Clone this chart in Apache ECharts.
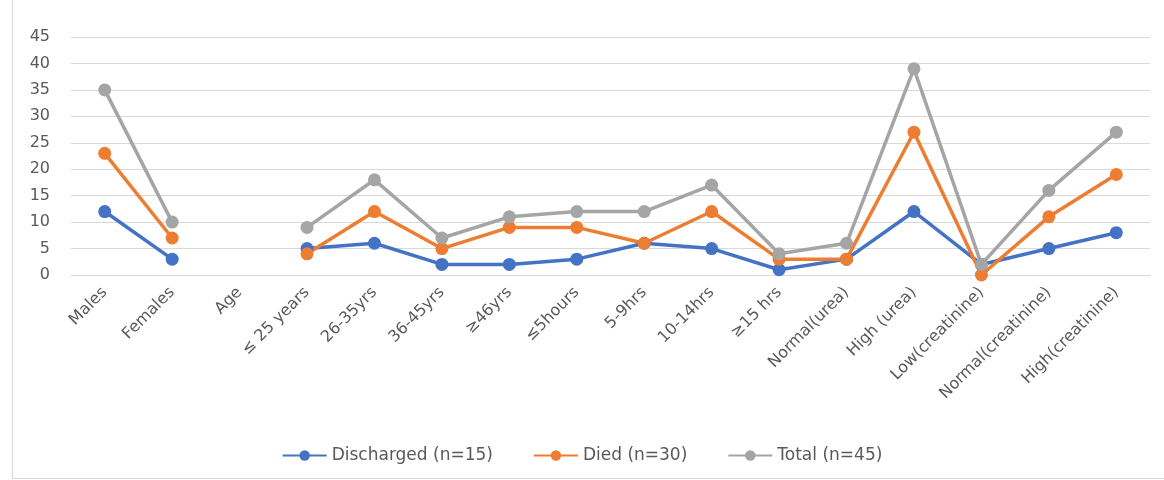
<!DOCTYPE html>
<html>
<head>
<meta charset="utf-8">
<script src="https://cdn.jsdelivr.net/npm/echarts@6/dist/echarts.min.js"></script>
<style>
  html, body { margin: 0; padding: 0; background: #fff; }
  #chart { width: 1164px; height: 480px; }
  .frame { position: absolute; left: 12px; top: 0; width: 1160px; height: 478px; border-left: 1px solid #d9d9d9; border-bottom: 1px solid #d9d9d9; }
</style>
</head>
<body>
<div class="frame"></div>
<div id="chart"></div>
<script>
const categories = ['Males', 'Females', 'Age', '≤ 25 years', '26-35yrs', '36-45yrs', '≥46yrs', '≤5hours',
  '5-9hrs', '10-14hrs', '≥15 hrs', 'Normal(urea)', 'High (urea)', 'Low(creatinine)', 'Normal(creatinine)', 'High(creatinine)']
const discharged = [12, 3, null, 5, 6, 2, 2, 3, 6, 5, 1, 3, 12, 2, 5, 8]
const died = [23, 7, null, 4, 12, 5, 9, 9, 6, 12, 3, 3, 27, 0, 11, 19]
const total = [35, 10, null, 9, 18, 7, 11, 12, 12, 17, 4, 6, 39, 2, 16, 27]
const seriesNames = ['Discharged (n=15)', 'Died (n=30)', 'Total (n=45)']

const font = '"DejaVu Sans", sans-serif'
const myChart = echarts.init(document.getElementById('chart'))

function lineSeries(name, data, color) {
  return {
    name: name,
    type: 'line',
    data: data,
    symbol: 'circle',
    symbolSize: 13,
    connectNulls: false,
    lineStyle: { width: 3.5, color: color },
    itemStyle: { color: color }
  }
}

const option = {
  animation: false,
  color: ['#4472c4', '#ed7d31', '#a5a5a5'],
  grid: { left: 71, right: 14, top: 37, bottom: 205 },
  legend: {
    bottom: 11,
    left: 'center',
    itemWidth: 44,
    itemHeight: 13,
    itemGap: 40,
    textStyle: { color: '#595959', fontSize: 17, fontFamily: font },
    data: seriesNames
  },
  xAxis: {
    type: 'category',
    data: categories,
    boundaryGap: true,
    axisLine: { lineStyle: { color: '#d9d9d9' } },
    axisTick: { show: false },
    axisLabel: { rotate: 45, color: '#595959', fontSize: 16, fontFamily: font, interval: 0, margin: 15 }
  },
  yAxis: {
    type: 'value',
    min: 0,
    max: 45,
    interval: 5,
    axisLine: { show: false },
    axisTick: { show: false },
    splitLine: { lineStyle: { color: '#d9d9d9' } },
    axisLabel: { color: '#595959', fontSize: 16, fontFamily: font, margin: 21 }
  },
  series: [
    lineSeries(seriesNames[0], discharged, '#4472c4'),
    lineSeries(seriesNames[1], died, '#ed7d31'),
    lineSeries(seriesNames[2], total, '#a5a5a5')
  ]
}
myChart.setOption(option)
</script>
</body>
</html>
